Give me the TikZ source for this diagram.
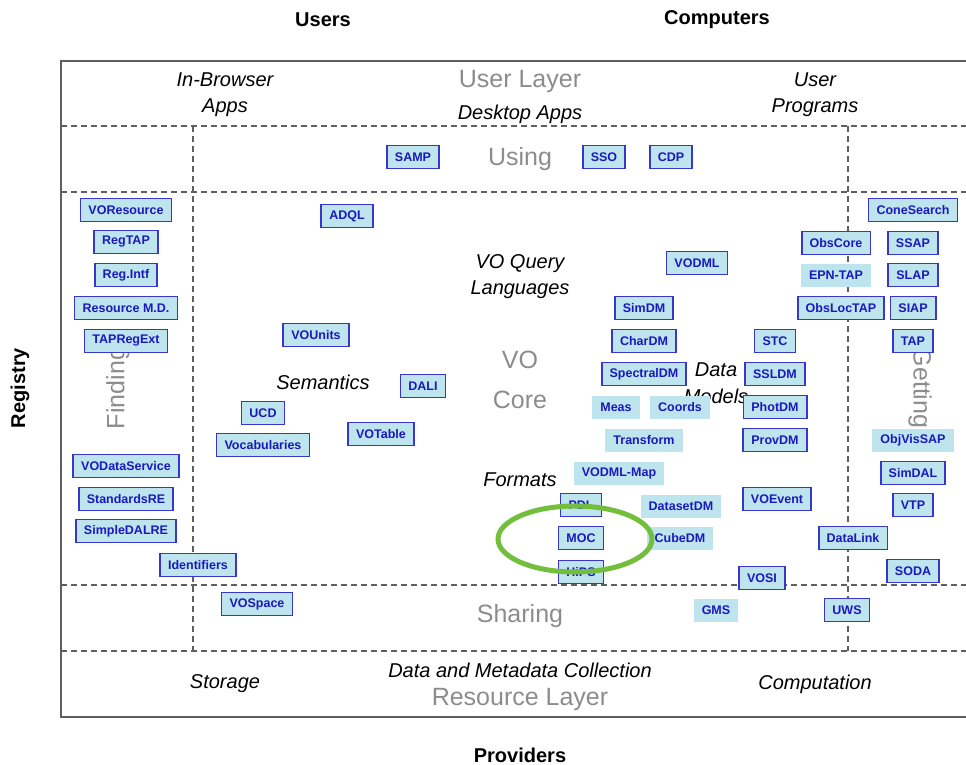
\documentclass[tikz,border=0pt]{standalone}
\usepackage{fontspec}
\setmainfont{Liberation Sans}

\definecolor{boxfill}{RGB}{190,228,238}
\definecolor{boxline}{RGB}{55,55,205}
\definecolor{boxtext}{RGB}{25,25,190}
\definecolor{layergray}{RGB}{140,140,140}
\definecolor{linegray}{RGB}{95,95,95}
\definecolor{mocgreen}{RGB}{115,190,60}

\begin{document}
\begin{tikzpicture}[x=1pt, y=-1pt,
    std/.style={draw=boxline, line width=1.8pt, fill=boxfill, text=boxtext,
        font=\fontsize{12.5}{14}\selectfont\bfseries, inner xsep=8pt, inner ysep=0pt,
        minimum height=23pt},
    draft/.style={std, draw=none},
    area/.style={font=\fontsize{20}{26}\selectfont\itshape, align=center},
    layer/.style={text=layergray, font=\fontsize{25}{40}\selectfont, align=center},
    side/.style={font=\fontsize{20}{24}\selectfont\bfseries},
    sep/.style={linegray, line width=1.2pt, dash pattern=on 6pt off 4pt}]

    \useasboundingbox (0,0) rectangle (966,765);

    % Frame and the dashed layer lines
    \draw[linegray, line width=2.2pt] (61,61) rectangle (990,717);
    \foreach \y in {126,192,585,651} {
        \draw[sep] (61,\y) -- (990,\y);
    }
    \foreach \x in {193,848} {
        \draw[sep] (\x,126) -- (\x,651);
    }

    % Sides of the frame
    \node[side] (users) at (323,20) {Users};
    \node[side] (computers) at (717,20) {Computers};
    \node[side] (providers) at (520,755) {Providers};
    \node[side, rotate=90] (registry) at (20,388) {Registry};

    % Layer names in grey
    \node[layer] (userlayer) at (520,81) {User Layer};
    \node[layer] (using) at (520,159) {Using};
    \node[layer] (vocore) at (520,380) {VO\\Core};
    \node[layer] (sharing) at (520,616) {Sharing};
    \node[layer] (reslayer) at (520,699) {Resource Layer};
    \node[layer, rotate=90] (finding) at (118,388) {Finding};
    \node[layer, rotate=-90] (getting) at (920,388) {Getting};

    % Areas in italics
    \node[area] (browser) at (225,95) {In-Browser\\Apps};
    \node[area] (desktop) at (520,114) {Desktop Apps};
    \node[area] (programs) at (815,95) {User\\Programs};
    \node[area] (query) at (520,277) {VO Query\\Languages};
    \node[area] (semantics) at (323,382) {Semantics};
    \node[area, font=\fontsize{20}{27}\selectfont\itshape] (models) at (716,383) {Data\\Models};
    \node[area] (formats) at (520,480) {Formats};
    \node[area] (collection) at (520,670) {Data and Metadata Collection};
    \node[area] (storage) at (225,684) {Storage};
    \node[area] (computation) at (815,684) {Computation};

    % Standards with a frame
    \foreach \nm/\x/\y/\txt in {samp/413/157/SAMP, sso/604/157/SSO, cdp/671/157/CDP,
        voresource/126/210/VOResource, regtap/126/242/RegTAP, regintf/126/275/Reg.Intf,
        resmd/126/308/Resource M.D., tapregext/126/341/TAPRegExt,
        vodataservice/126/466/VODataService, standardsre/126/499/StandardsRE,
        simpledalre/126/531/SimpleDALRE, identifiers/198/565/Identifiers,
        vospace/257/604/VOSpace, adql/347/216/ADQL, vounits/316/335/VOUnits,
        dali/423/386/DALI, ucd/263/413/UCD, votable/381/434/VOTable,
        vocabularies/263/445/Vocabularies, vodml/697/263/VODML, simdm/644/308/SimDM,
        chardm/644/341/CharDM, spectraldm/644/374/SpectralDM, pdl/581/505/PDL,
        moc/581/538/MOC, hips/581/572/HiPS, stc/775/341/STC, ssldm/775/374/SSLDM,
        photdm/775/407/PhotDM, provdm/775/440/ProvDM, voevent/777/499/VOEvent,
        vosi/762/578/VOSI, obscore/836/243/ObsCore, obsloctap/841/308/ObsLocTAP,
        datalink/853/538/DataLink, uws/847/610/UWS, conesearch/913/210/ConeSearch,
        ssap/913/243/SSAP, slap/913/275/SLAP, siap/913/308/SIAP, tap/913/341/TAP,
        simdal/913/473/SimDAL, vtp/913/505/VTP, soda/913/571/SODA} {
        \node[std] (\nm) at (\x,\y) {\txt};
    }

    % Drafts, no frame
    \foreach \nm/\x/\y/\txt in {meas/616/407/Meas, coords/680/407/Coords,
        transform/644/440/Transform, vodmlmap/619/473/VODML-Map,
        datasetdm/681/506/DatasetDM, cubedm/680/538/CubeDM, gms/716/610/GMS,
        epntap/836/275/EPN-TAP, objvissap/913/440/ObjVisSAP} {
        \node[draft] (\nm) at (\x,\y) {\txt};
    }

    % Ring round MOC
    \draw[mocgreen, line width=5pt] (moc.center) ++(-6,1) ellipse [x radius=77, y radius=33];

\end{tikzpicture}
\end{document}
